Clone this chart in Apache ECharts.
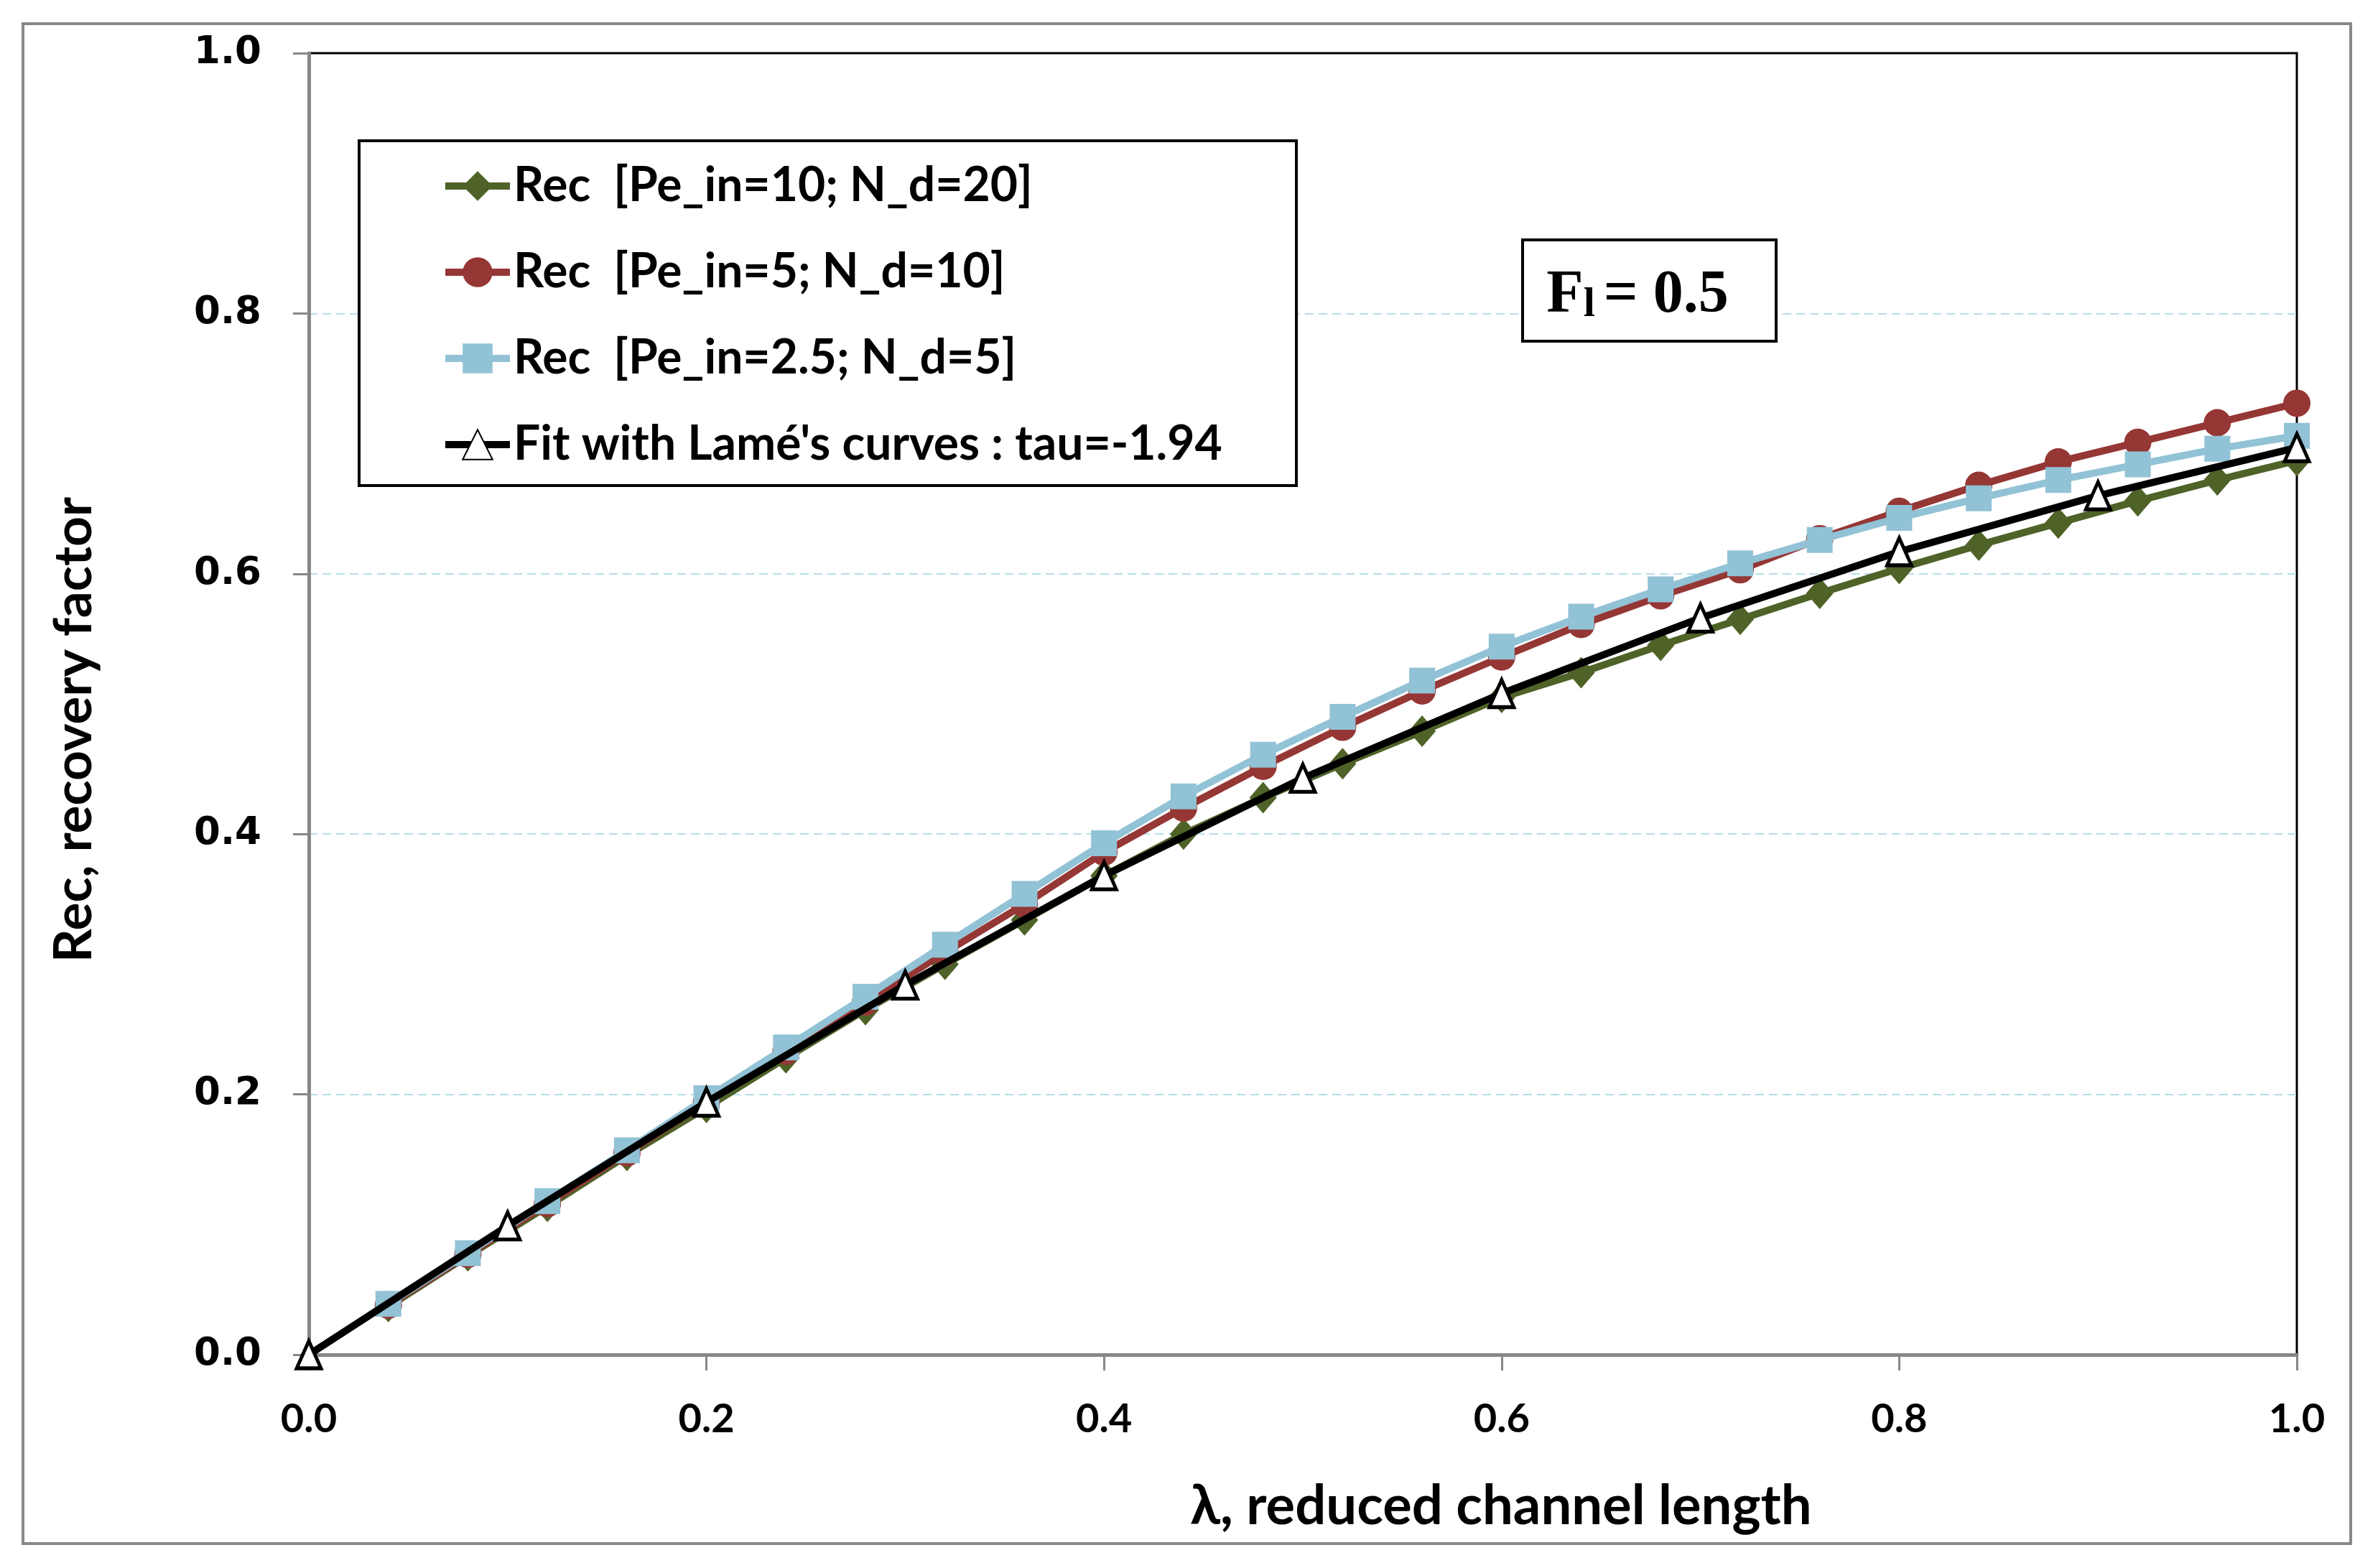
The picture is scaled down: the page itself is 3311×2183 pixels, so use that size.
<!DOCTYPE html>
<html>
<head>
<meta charset="utf-8">
<script src="https://cdn.jsdelivr.net/npm/echarts@6/dist/echarts.min.js"></script>
<style>
html,body{margin:0;padding:0;background:#fff;}
#c{width:3311px;height:2183px;}
</style>
</head>
<body>
<div id="c"></div>
<script>
// ---- data ----
const xRec = [0.04,0.08,0.12,0.16,0.20,0.24,0.28,0.32,0.36,0.40,0.44,0.48,0.52,0.56,0.60,0.64,0.68,0.72,0.76,0.80,0.84,0.88,0.92,0.96,1.00];
const recPe10 = [0.037,0.076,0.114,0.153,0.190,0.228,0.265,0.300,0.334,0.368,0.400,0.428,0.454,0.479,0.505,0.524,0.545,0.565,0.585,0.604,0.622,0.639,0.656,0.672,0.687];
const recPe5 = [0.038,0.077,0.116,0.155,0.194,0.233,0.271,0.309,0.346,0.386,0.420,0.452,0.482,0.510,0.536,0.561,0.583,0.603,0.627,0.648,0.668,0.686,0.701,0.716,0.731];
const recPe25 = [0.039,0.078,0.118,0.157,0.197,0.236,0.275,0.315,0.354,0.393,0.429,0.461,0.490,0.518,0.544,0.567,0.588,0.608,0.626,0.643,0.658,0.672,0.684,0.696,0.706];
const xFit = [0,0.1,0.2,0.3,0.4,0.5,0.6,0.7,0.8,0.9,1.0];
const fitLame = [0,0.099,0.194,0.284,0.368,0.443,0.508,0.566,0.617,0.660,0.697];
const seriesNames = ["Rec  [Pe_in=10; N_d=20]","Rec  [Pe_in=5; N_d=10]","Rec  [Pe_in=2.5; N_d=5]","Fit with Lamé's curves : tau=-1.94"];
const xTitle = "λ, reduced channel length";
const yTitle = "Rec, recovery factor";
const annot = ["F","l","= 0.5"];

const pairs = (xs, ys) => xs.map((x,i)=>[x, ys[i]]);

const chart = echarts.init(document.getElementById('c'), null, {renderer:'canvas'});
const option = {
  animation:false,
  backgroundColor:'#fff',
  grid:{left:430,right:113,top:74,bottom:297,show:true,borderColor:'#000',borderWidth:3,backgroundColor:'transparent'},
  xAxis:{type:'value',min:0,max:1,interval:0.2,
    axisLine:{show:true,onZero:false,lineStyle:{color:'#878787',width:5}},
    axisTick:{show:true,inside:false,length:22,lineStyle:{color:'#878787',width:3}},
    axisLabel:{margin:62,formatter:v=>v.toFixed(1),fontFamily:'Lato',fontWeight:'bold',fontSize:56,color:'#000'},
    splitLine:{show:false}},
  yAxis:{type:'value',min:0,max:1,interval:0.2,
    axisLine:{show:true,onZero:false,lineStyle:{color:'#878787',width:5}},
    axisTick:{show:true,inside:false,length:22,lineStyle:{color:'#878787',width:3}},
    axisLabel:{margin:66,formatter:v=>v.toFixed(1),fontFamily:'DejaVu Sans',fontWeight:'bold',fontSize:53,color:'#000'},
    splitLine:{show:true,showMinLine:false,showMaxLine:false,lineStyle:{color:'#b7dde8',width:2,type:[12,7]}}},
  legend:{show:true,orient:'vertical',left:610,top:221,itemWidth:90,itemHeight:52,itemGap:54,z:10,
    lineStyle:{width:10},
    textStyle:{fontFamily:'Lato',fontWeight:'bold',fontSize:66,color:'#000'},
    data:seriesNames},
  series:[
    {name:seriesNames[0],type:'line',data:pairs(xRec,recPe10),symbol:'diamond',symbolSize:[38,44],
      itemStyle:{color:'#4F6228'},lineStyle:{color:'#4F6228',width:10},z:2},
    {name:seriesNames[1],type:'line',data:pairs(xRec,recPe5),symbol:'circle',symbolSize:38,
      itemStyle:{color:'#953735'},lineStyle:{color:'#953735',width:10},z:3},
    {name:seriesNames[2],type:'line',data:pairs(xRec,recPe25),symbol:'rect',symbolSize:36,
      itemStyle:{color:'#92C2D5'},lineStyle:{color:'#92C2D5',width:10},z:4},
    {name:seriesNames[3],type:'line',data:pairs(xFit,fitLame),symbol:'triangle',symbolSize:[34,38],
      itemStyle:{color:'#fff',borderColor:'#000',borderWidth:5},lineStyle:{color:'#000',width:10},z:5}
  ],
  graphic:[
    {type:'rect',z:-1,silent:true,shape:{x:32,y:33,width:3241,height:2116},style:{fill:'none',stroke:'#888',lineWidth:4}},
    {type:'rect',z:1,silent:true,shape:{x:500,y:196,width:1305,height:480},style:{fill:'#fff',stroke:'#000',lineWidth:4}},
    {type:'rect',z:1,silent:true,shape:{x:2120,y:334,width:353,height:141},style:{fill:'#fff',stroke:'#000',lineWidth:4}},
    {type:'text',z:2,silent:true,x:2280,y:412,style:{
      text:'{a|'+annot[0]+'}{b|'+annot[1]+'}{c|'+annot[2]+'}',
      align:'center',verticalAlign:'middle',
      rich:{a:{fontFamily:'Liberation Serif',fontWeight:'bold',fontSize:84,fill:'#000',verticalAlign:'bottom',lineHeight:84},
            b:{fontFamily:'Liberation Serif',fontWeight:'bold',fontSize:58,fill:'#000',verticalAlign:'bottom',lineHeight:64,padding:[0,12,0,0]},
            c:{fontFamily:'Liberation Serif',fontWeight:'bold',fontSize:84,fill:'#000',verticalAlign:'bottom',lineHeight:84}}}},
    {type:'text',z:2,silent:true,x:2090,y:2097,style:{text:xTitle,fontFamily:'Lato',fontWeight:'bold',fontSize:76,fill:'#000',align:'center',verticalAlign:'middle'}},
    {type:'text',z:2,silent:true,x:103,y:1016,rotation:Math.PI/2,style:{text:yTitle,fontFamily:'Lato',fontWeight:'bold',fontSize:73,fill:'#000',align:'center',verticalAlign:'middle'}}
  ]
};
chart.setOption(option);
</script>
</body>
</html>
